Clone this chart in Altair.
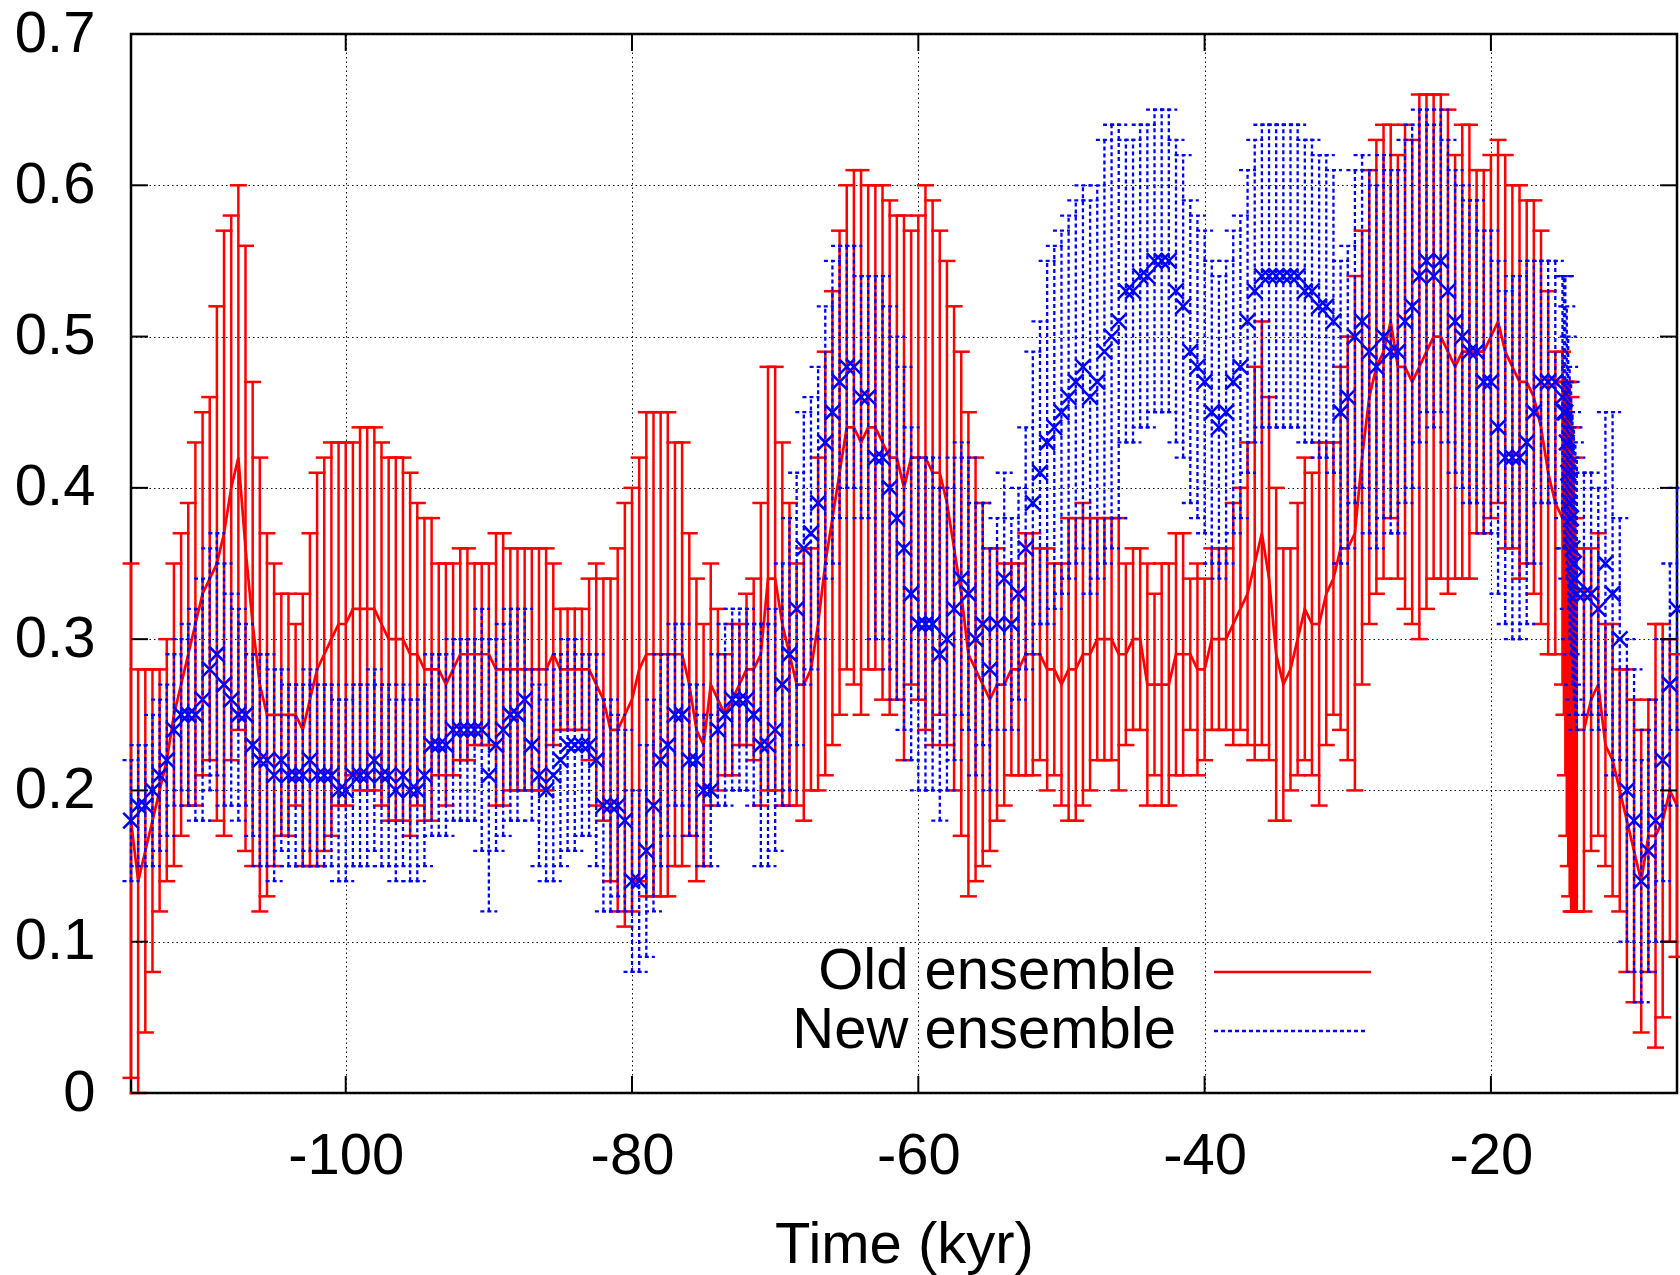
import altair as alt
import pandas as pd

# ---------------- data ----------------
TIME = [
    -115, -114.5, -114, -113.5, -113, -112.5, -112, -111.5, -111, -110.5,
    -110, -109.5, -109, -108.5, -108, -107.5, -107, -106.5, -106, -105.5,
    -105, -104.5, -104, -103.5, -103, -102.5, -102, -101.5, -101, -100.5,
    -100, -99.5, -99, -98.5, -98, -97.5, -97, -96.5, -96, -95.5,
    -95, -94.5, -94, -93.5, -93, -92.5, -92, -91.5, -91, -90.5,
    -90, -89.5, -89, -88.5, -88, -87.5, -87, -86.5, -86, -85.5,
    -85, -84.5, -84, -83.5, -83, -82.5, -82, -81.5,
    -81, -80.5, -80, -79.5, -79, -78.5, -78, -77.5, -77, -76.5,
    -76, -75.5, -75, -74.5, -74, -73.5, -73, -72.5, -72, -71.5,
    -71, -70.5, -70, -69.5, -69, -68.5, -68, -67.5, -67, -66.5,
    -66, -65.5, -65, -64.5, -64, -63.5,
    -63, -62.5, -62, -61.5, -61, -60.5, -60, -59.5, -59, -58.5,
    -58, -57.5, -57, -56.5, -56, -55.5, -55, -54.5, -54, -53.5,
    -53, -52.5, -52, -51.5, -51, -50.5, -50, -49.5, -49, -48.5,
    -48, -47.5, -47, -46.5, -46,
    -45.5, -45, -44.5, -44, -43.5, -43, -42.5, -42, -41.5, -41,
    -40.5, -40, -39.5, -39, -38.5, -38, -37.5, -37, -36.5, -36,
    -35.5, -35, -34.5, -34, -33.5, -33, -32.5, -32, -31.5, -31,
    -30.5, -30, -29.5, -29, -28.5, -28,
    -27.5, -27, -26.5, -26, -25.5, -25, -24.5, -24, -23.5, -23,
    -22.5, -22, -21.5, -21, -20.5, -20, -19.5, -19, -18.5, -18,
    -17.5, -17, -16.5, -16, -15.5, -15,
    -14.9, -14.8, -14.7, -14.6, -14.5, -14.4, -14.3, -14.2, -14.1, -14.0,
    -13.5, -13, -12.5, -12, -11.5, -11, -10.5, -10, -9.5, -9,
    -8.5, -8, -7.5, -7,
]

# Old ensemble: mean and upper end of the error bar
OLD_MEAN = [
    .18, .14, .16, .18, .20, .22, .25, .27, .29, .31, .33, .34, .35, .37, .40, .42, .36, .31, .27, .25,
    .25, .25, .25, .25, .24, .26, .28, .29, .30, .31,
    .31, .32, .32, .32, .32, .31, .30, .30, .30, .29, .29, .28, .28, .28, .27, .28, .29, .29, .29, .29,
    .29, .28, .28, .28, .28, .28, .28, .28, .28, .29, .28, .28, .28, .28, .28, .27, .26, .24,
    .24, .25, .26, .28, .29, .29, .29, .29, .29, .29, .27, .24, .23, .27, .26, .25, .26, .27, .28, .28,
    .29, .34, .34, .31, .29, .27, .27, .28, .31, .35, .38, .41, .44, .44, .43, .44,
    .44, .43, .42, .42, .40, .42, .42, .42, .41, .41, .39, .36, .33, .29, .28, .27, .26, .27, .27, .28,
    .28, .29, .29, .29, .28, .28, .27, .28, .28, .29, .29, .30, .30, .30, .29,
    .29, .30, .30, .27, .27, .27, .27, .29, .29, .29, .28, .28, .30, .30, .30, .31, .32, .33, .35, .37,
    .34, .29, .27, .28, .30, .32, .31, .31, .33, .34, .36, .36, .37, .42, .46, .48,
    .49, .51, .48, .48, .47, .48, .49, .50, .50, .49, .48, .49, .49, .49, .49, .50, .51, .49, .48, .47,
    .47, .46, .44, .41, .39, .38,
    .36, .34, .32, .31, .30, .29, .28, .27, .25, .24,
    .24, .26, .27, .23, .22, .20, .18, .16, .14, .17, .17, .18, .20, .19,
]
OLD_UPPER = [
    .35, .28, .28, .28, .28, .30, .35, .37, .39, .43, .45, .46, .52, .57, .58, .60, .56, .47, .42, .37,
    .35, .33, .33, .31, .33, .37, .41, .42, .43, .43,
    .43, .43, .44, .44, .44, .43, .42, .42, .42, .41, .39, .38, .38, .35, .35, .35, .36, .36, .35, .35,
    .35, .37, .37, .36, .36, .36, .36, .36, .36, .35, .32, .32, .32, .32, .34, .35, .34, .34,
    .36, .39, .40, .42, .45, .45, .45, .45, .43, .43, .37, .34, .31, .35, .32, .29, .31, .31, .33, .34,
    .39, .48, .48, .43, .39, .35, .36, .36, .42, .49, .53, .57, .60, .61, .61, .60,
    .60, .60, .59, .58, .58, .57, .58, .60, .59, .57, .55, .52, .49, .45, .42, .39, .36, .36, .35, .35,
    .35, .37, .37, .36, .36, .35, .35, .38, .38, .39, .38, .38, .38, .38, .38,
    .35, .36, .36, .35, .33, .35, .35, .37, .37, .34, .35, .34, .36, .36, .36, .39, .40, .43, .48, .51,
    .46, .40, .36, .36, .39, .42, .41, .43, .43, .43, .48, .50, .54, .57, .61, .63,
    .64, .64, .62, .64, .63, .66, .66, .66, .66, .65, .62, .64, .64, .61, .61, .62, .63, .62, .60, .60,
    .59, .59, .57, .53, .49, .49,
    .47, .47, .47, .47, .47, .46, .44, .42, .38, .36,
    .36, .36, .37, .31, .31, .28, .28, .26, .24, .26, .31, .31, .30, .29,
]

# New ensemble: mean and half-width of the error bar
NEW_MEAN = [
    .18, .19, .19, .20, .21, .22, .24, .25, .25, .25, .26, .28, .29, .27, .26, .25, .25, .23, .22, .22,
    .21, .22, .21, .21, .21, .22, .21, .21, .21, .20,
    .20, .21, .21, .21, .22, .21, .21, .20, .21, .20, .20, .21, .23, .23, .23, .24, .24, .24, .24, .24,
    .21, .23, .24, .25, .25, .26, .23, .21, .20, .21, .22, .23, .23, .23, .23, .22, .19, .19,
    .19, .18, .14, .14, .16, .19, .22, .23, .25, .25, .22, .22, .20, .20, .24, .25, .26, .26, .26, .25,
    .23, .23, .24, .27, .29, .32, .36, .37, .39, .43, .45, .47, .48, .48, .46, .46,
    .42, .42, .40, .38, .36, .33, .31, .31, .31, .29, .30, .32, .34, .33, .30, .31, .28, .31, .34, .31,
    .33, .36, .39, .41, .43, .44, .45, .46, .47, .48, .46, .47, .49, .50, .51,
    .53, .53, .54, .54, .55, .55, .55, .53, .52, .49, .48, .47, .45, .44, .45, .47, .48, .51, .53, .54,
    .54, .54, .54, .54, .54, .53, .53, .52, .52, .51, .45, .46, .50, .51, .49, .48,
    .50, .49, .49, .51, .52, .54, .55, .54, .55, .53, .51, .50, .49, .49, .47, .47, .44, .42, .42, .42,
    .43, .45, .47, .47, .47, .46,
    .45, .45, .43, .41, .39, .38, .36, .35, .34, .33,
    .33, .33, .32, .35, .33, .30, .20, .18, .14, .16, .18, .22, .27, .32,
]
NEW_ERR = [
    .04, .04, .04, .05, .05, .05, .05, .05, .06, .07, .08, .08, .08, .08, .07, .07, .06, .06, .07, .07,
    .07, .06, .06, .06, .06, .06, .06, .06, .06, .06,
    .06, .06, .06, .06, .06, .06, .06, .06, .06, .06, .06, .06, .06, .06, .06, .06, .06, .06, .06, .08,
    .09, .07, .07, .07, .07, .06, .05, .06, .06, .07, .07, .07, .07, .06, .06, .07, .07, .07,
    .06, .06, .06, .06, .07, .07, .07, .06, .06, .06, .05, .05, .05, .05, .05, .06, .06, .06, .06, .06,
    .08, .08, .08, .08, .09, .09, .09, .09, .09, .09, .10, .09, .08, .08, .08, .08,
    .12, .12, .12, .12, .12, .11, .11, .11, .11, .11, .10, .10, .09, .09, .09, .08, .08, .07, .07, .07,
    .07, .08, .10, .10, .12, .12, .12, .12, .12, .12, .13, .13, .14, .14, .13,
    .10, .10, .10, .10, .10, .10, .10, .10, .10, .10, .10, .10, .10, .10, .10, .10, .10, .10, .10, .10,
    .10, .10, .10, .10, .10, .10, .10, .10, .10, .10, .10, .10, .11, .11, .12, .12,
    .12, .12, .12, .12, .12, .11, .10, .10, .10, .10, .10, .10, .10, .10, .10, .10, .11, .11, .12, .12,
    .12, .10, .08, .08, .08, .08,
    .09, .09, .09, .09, .09, .09, .09, .09, .09, .09,
    .08, .08, .08, .10, .12, .08, .10, .10, .08, .08, .08, .08, .08, .08,
]

X_TICKS = [-100, -80, -60, -40, -20]
Y_TICKS = [0, 0.1, 0.2, 0.3, 0.4, 0.5, 0.6, 0.7]
LEGEND_LABELS = ["Old ensemble", "New ensemble"]
X_TITLE = "Time (kyr)"

n = len(TIME)
for name, arr in [("OLD_MEAN", OLD_MEAN), ("OLD_UPPER", OLD_UPPER),
                  ("NEW_MEAN", NEW_MEAN), ("NEW_ERR", NEW_ERR)]:
    assert len(arr) == n, (name, len(arr), n)

df = pd.DataFrame({"time": TIME, "old": OLD_MEAN, "old_hi": OLD_UPPER,
                   "new": NEW_MEAN, "new_err": NEW_ERR})
df["old_lo"] = (2 * df["old"] - df["old_hi"]).clip(lower=0)
df["new_lo"] = df["new"] - df["new_err"]
df["new_hi"] = df["new"] + df["new_err"]

# ---------------- styling ----------------
W, H = 1546, 1059
LEFT, TOP = 131, 34
FONT = "Liberation Sans"
FS = 58
RED = "#ff0000"
BLUE = "#0000ff"
CAP = 8.5
TICK = 17
GRID_DASH = [1.5, 3]

xs = alt.Scale(domain=[-115, -7], nice=False, zero=False)
ys = alt.Scale(domain=[0, 0.7], nice=False)

x_axis = alt.Axis(values=X_TICKS, title=X_TITLE, labelExpr="'' + datum.value",
                  grid=True, gridDash=GRID_DASH, gridColor="#111", gridWidth=1,
                  ticks=False, tickSize=0, domain=False, labelFlush=False,
                  labelFont=FONT, labelFontSize=FS, labelColor="black",
                  labelBaseline="alphabetic", labelPadding=80,
                  titleFont=FONT, titleFontSize=FS, titleFontWeight="normal",
                  titleColor="black", titleBaseline="alphabetic", titleY=169)
y_axis = alt.Axis(values=Y_TICKS, format=".1~f", title=None,
                  grid=True, gridDash=GRID_DASH, gridColor="#111", gridWidth=1,
                  ticks=False, tickSize=0, domain=False, labelFlush=False,
                  labelFont=FONT, labelFontSize=FS, labelColor="black",
                  labelBaseline="middle", labelPadding=36)


def X(field):
    return alt.X(field, scale=xs, axis=x_axis, title=X_TITLE)


def Y(field):
    return alt.Y(field, scale=ys, axis=y_axis, title=None)


base = alt.Chart(df)
RSW = 2.5
BSW = 2.3

red_bars = base.mark_rule(color=RED, strokeWidth=RSW).encode(
    x=X("time:Q"), y=Y("old_lo:Q"), y2="old_hi:Q")
red_cap_lo = base.mark_rule(color=RED, strokeWidth=RSW, xOffset=-CAP, x2Offset=CAP).encode(
    x=X("time:Q"), x2="time:Q", y=Y("old_lo:Q"))
red_cap_hi = base.mark_rule(color=RED, strokeWidth=RSW, xOffset=-CAP, x2Offset=CAP).encode(
    x=X("time:Q"), x2="time:Q", y=Y("old_hi:Q"))
red_line = base.mark_line(color=RED, strokeWidth=2.7).encode(
    x=X("time:Q"), y=Y("old:Q"))

DASH = [4, 3]
blue_bars = base.mark_rule(color=BLUE, strokeWidth=BSW, strokeDash=DASH).encode(
    x=X("time:Q"), y=Y("new_lo:Q"), y2="new_hi:Q")
blue_cap_lo = base.mark_rule(color=BLUE, strokeWidth=BSW, strokeDash=DASH,
                             xOffset=-CAP, x2Offset=CAP).encode(
    x=X("time:Q"), x2="time:Q", y=Y("new_lo:Q"))
blue_cap_hi = base.mark_rule(color=BLUE, strokeWidth=BSW, strokeDash=DASH,
                             xOffset=-CAP, x2Offset=CAP).encode(
    x=X("time:Q"), x2="time:Q", y=Y("new_hi:Q"))
blue_pts = base.mark_point(shape="M -1 -1 L 1 1 M -1 1 L 1 -1", size=240, filled=False,
                           color=BLUE, strokeWidth=2.6, opacity=1).encode(
    x=X("time:Q"), y=Y("new:Q"))

# inward ticks on all four sides (gnuplot style)
ydf = pd.DataFrame({"v": Y_TICKS})
xdf = pd.DataFrame({"v": X_TICKS})
tick_style = dict(color="black", strokeWidth=2)
yt_left = alt.Chart(ydf).mark_rule(**tick_style).encode(
    y=Y("v:Q"), x=alt.value(0), x2=alt.value(TICK))
yt_right = alt.Chart(ydf).mark_rule(**tick_style).encode(
    y=Y("v:Q"), x=alt.value(W - TICK), x2=alt.value(W))
xt_bottom = alt.Chart(xdf).mark_rule(**tick_style).encode(
    x=X("v:Q"), y=alt.value(H - TICK), y2=alt.value(H))
xt_top = alt.Chart(xdf).mark_rule(**tick_style).encode(
    x=X("v:Q"), y=alt.value(0), y2=alt.value(TICK))

# legend (label left, sample right, like gnuplot)
one = pd.DataFrame({"a": [0]})
LEG_TEXT_X = 1176 - LEFT
LEG_LINE_X1, LEG_LINE_X2 = 1214 - LEFT, 1371 - LEFT
LEG_Y1, LEG_Y2 = 972 - TOP, 1031 - TOP
leg_t1 = alt.Chart(one).mark_text(text=LEGEND_LABELS[0], align="right", baseline="middle",
                                  font=FONT, fontSize=FS, color="black").encode(
    x=alt.value(LEG_TEXT_X), y=alt.value(LEG_Y1))
leg_t2 = alt.Chart(one).mark_text(text=LEGEND_LABELS[1], align="right", baseline="middle",
                                  font=FONT, fontSize=FS, color="black").encode(
    x=alt.value(LEG_TEXT_X), y=alt.value(LEG_Y2))
leg_l1 = alt.Chart(one).mark_rule(color=RED, strokeWidth=2.5).encode(
    x=alt.value(LEG_LINE_X1), x2=alt.value(LEG_LINE_X2), y=alt.value(LEG_Y1))
leg_l2 = alt.Chart(one).mark_rule(color=BLUE, strokeWidth=BSW, strokeDash=DASH).encode(
    x=alt.value(LEG_LINE_X1), x2=alt.value(LEG_LINE_X2 - 5), y=alt.value(LEG_Y2))

chart = alt.layer(
    red_bars, red_cap_lo, red_cap_hi, red_line,
    blue_bars, blue_cap_lo, blue_cap_hi, blue_pts,
    yt_left, yt_right, xt_bottom, xt_top,
    leg_t1, leg_t2, leg_l1, leg_l2,
).properties(
    width=W, height=H,
    padding={"left": LEFT, "top": TOP, "right": 1680 - LEFT - W, "bottom": 1275 - TOP - H},
    autosize=alt.AutoSizeParams(type="none"),
    background="white",
).configure_view(stroke="black", strokeWidth=2.5)

chart.save("out.html", embed_options={"renderer": "svg", "actions": False})
